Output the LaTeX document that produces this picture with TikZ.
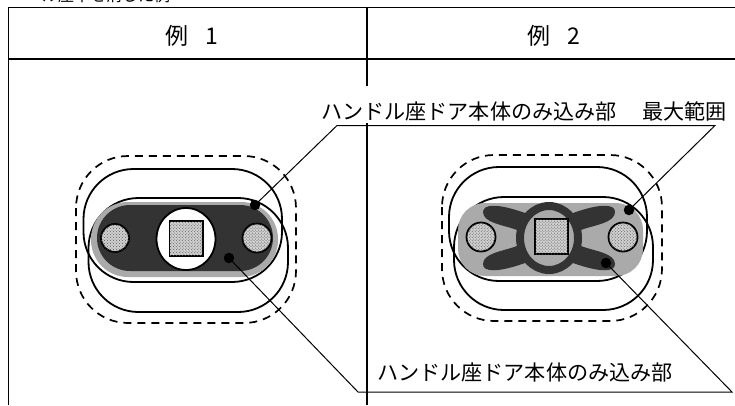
\documentclass[tikz,border=0pt]{standalone}
\usepackage{fontspec}
\usetikzlibrary{patterns}
\newfontfamily\jpfont{Noto Sans CJK JP}
\definecolor{darkfill}{HTML}{333333}
\definecolor{midfill}{HTML}{AAAAAA}
\definecolor{dotbase}{HTML}{D0D0D0}
\tikzset{
  x=1bp,y=-1bp,
  frameline/.style={line width=1.9bp,black},
  headline/.style={line width=2.8bp,black},
  outline/.style={line width=1.8bp,black,rounded corners=50bp},
  dashline/.style={line width=1.7bp,black,rounded corners=52bp,dash pattern=on 8bp off 6bp},
  leader/.style={line width=1bp,black},
  dotted fill/.style={line width=1.8bp,draw=black,fill=dotbase,postaction={pattern=crosshatch dots,pattern color=black!65}},
  blackdot/.style={circle,fill=black,inner sep=0pt,minimum size=10.5bp},
  label/.style={font=\jpfont\fontsize{21.1bp}{24bp}\selectfont,inner sep=0pt,anchor=west},
  head/.style={font=\jpfont\fontsize{23bp}{26bp}\selectfont,inner sep=0pt},
}
\begin{document}
\begin{tikzpicture}
\useasboundingbox (0,0) rectangle (735,405);
\fill[white] (0,0) rectangle (735,405);
% clipped heading
\node[font=\jpfont\fontsize{16bp}{18bp}\selectfont,inner sep=0pt,anchor=base west] (cliphead) at (42,1) {ル座本を消した例};
% table
\draw[frameline] (8.5,405) -- (8.5,7.5) -- (735,7.5);
\draw[headline] (8.5,59) -- (735,59);
\draw[frameline] (367,7.5) -- (367,86);
\draw[frameline] (367,123) -- (367,405);
\node[head] (h1) at (191.5,36) {例\hspace{17bp}1};
\node[head] (h2) at (554,36) {例\hspace{17bp}2};
% Example 1
\draw[dashline] (76,156) rectangle (296,323);
\draw[outline] (83.5,169) rectangle (282,282);
\draw[outline] (88.5,198) rectangle (288,312);
\fill[midfill,rounded corners=37bp] (91,202) rectangle (278,277);
\fill[darkfill,rounded corners=33bp] (97,205) rectangle (273,271);
\draw[line width=1.8bp,fill=white] (186,239) ellipse [x radius=29.5,y radius=31];
\draw[dotted fill] (169.5,221) rectangle (203,256);
\draw[dotted fill] (115,238) circle [radius=14];
\draw[dotted fill] (257,238) circle [radius=14.5];
\node[blackdot] (d1) at (255,205) {};
\node[blackdot] (d2) at (229,258) {};
% Example 2
\draw[dashline] (442,155) rectangle (662,321);
\draw[outline] (449,167) rectangle (647,281);
\draw[outline] (454,197) rectangle (653,310);
\fill[midfill,rounded corners=27bp] (458,203) rectangle (643,276);
\begin{scope}[shift={(549,238)}]
  \foreach \sx/\sy in {1/1,-1/1,1/-1,-1/-1}{
    \fill[darkfill,xscale=\sx,yscale=\sy]
      (-66,-26) .. controls (-66,-34) and (-52,-35) .. (-24,-25)
      -- (-20,-2) -- (-32,-2) -- (-32,-8)
      .. controls (-45,-13) and (-66,-15) .. (-66,-26) -- cycle;
  }
  \draw[line width=8bp,darkfill,fill=midfill] (0,0) ellipse [x radius=29,y radius=32];
\end{scope}
\draw[dotted fill] (535,219) rectangle (568,254);
\draw[dotted fill] (481,237) circle [radius=14.5];
\draw[dotted fill] (623,237) circle [radius=14.5];
\node[blackdot] (d3) at (629,210) {};
\node[blackdot] (d4) at (606,263) {};
% leaders
\coordinate (t1) at (337,125.5);
\coordinate (t2) at (715,125.5);
\coordinate (b1) at (358,392);
\coordinate (b2) at (732,392);
\draw[leader] (d1.center) -- (t1) -- (t2) -- (d3.center);
\draw[leader] (d2.center) -- (b1) -- (b2) -- (d4.center);
% labels
\node[label] (l1) at (321,111) {ハンドル座ドア本体のみ込み部\hspace{26bp}最大範囲};
\node[label] (l2) at (377,372) {ハンドル座ドア本体のみ込み部};
\end{tikzpicture}
\end{document}
